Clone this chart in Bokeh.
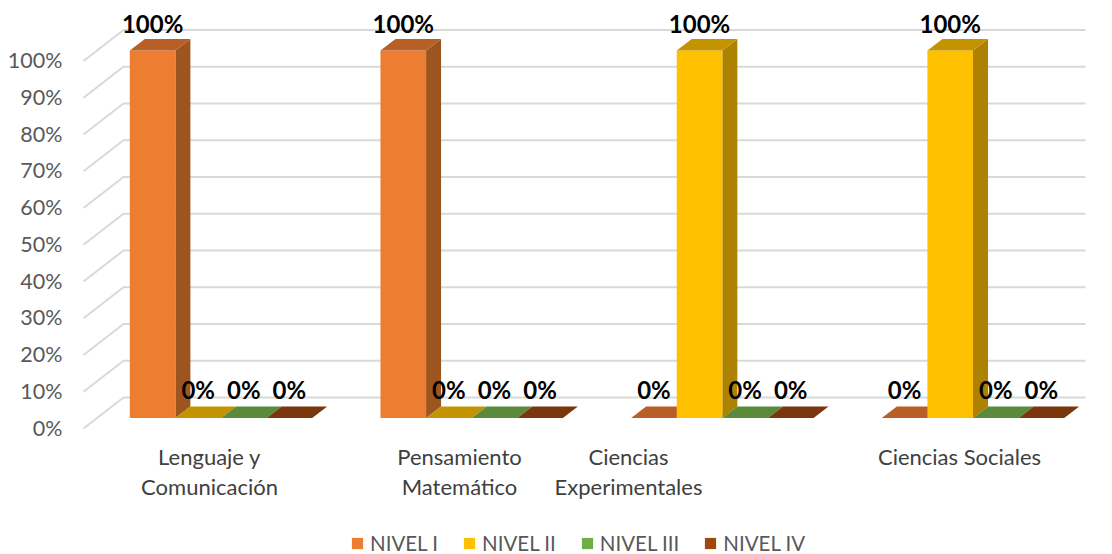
from bokeh.plotting import figure
from bokeh.models import Range1d, Legend, LegendItem
from bokeh.core.properties import value
from bokeh.embed import file_html
from bokeh.resources import INLINE

categories = ["Lenguaje y\nComunicación", "Pensamiento\nMatemático", "Ciencias\nExperimentales", "Ciencias Sociales"]
series_names = ["NIVEL I", "NIVEL II", "NIVEL III", "NIVEL IV"]
nivel_1 = [1.0, 1.0, 0.0, 0.0]
nivel_2 = [0.0, 0.0, 1.0, 1.0]
nivel_3 = [0.0, 0.0, 0.0, 0.0]
nivel_4 = [0.0, 0.0, 0.0, 0.0]
series = [nivel_1, nivel_2, nivel_3, nivel_4]
y_ticks = [0, 0.1, 0.2, 0.3, 0.4, 0.5, 0.6, 0.7, 0.8, 0.9, 1.0]
y_tick_labels = ["0%", "10%", "20%", "30%", "40%", "50%", "60%", "70%", "80%", "90%", "100%"]

front = ["#ed7d31", "#ffc000", "#70ad47", "#9e480e"]
top = ["#b85f26", "#c49400", "#5a8a3a", "#7a370b"]
side = ["#9c551f", "#ad8200", "#4f7a32", "#6b3009"]

W, H = 1112, 554
OX, OY = 0, 0
GROUP = 250.67                # px per group
PXV = 367.5                   # px per 100 %
X0 = 129.3                    # page x of group 0, first bar
Y0 = 417.5                    # page y of value 0

def px(xp):  # page x -> data x
    return (xp - X0) / GROUP
def py(yp):  # page y -> data y
    return (Y0 - yp) / PXV

p = figure(width=W, height=H, output_backend="svg", toolbar_location=None,
           x_range=Range1d(px(OX), px(OX + W)), y_range=Range1d(py(OY + H), py(OY)),
           min_border=0, min_border_left=0, min_border_right=0, min_border_top=0, min_border_bottom=0,
           outline_line_color=None, background_fill_color="white")
p.axis.visible = False
p.grid.visible = False
p.xaxis.visible = False
p.yaxis.visible = False

BAR = 45.6 / GROUP
DX = 15.0 / GROUP
DY = 11.5 / PXV
FONT = "Lato"

# gridlines: side wall + back wall
wall_off_front = py(Y0 + 10.5)
wall_off_back = py(Y0 - 20.5)
gx, gy = [], []
for t in y_ticks:
    gx.append([px(83), px(123), px(1085)])
    gy.append([t + wall_off_front, t + wall_off_back, t + wall_off_back])
p.multi_line(gx, gy, line_color="#d9d9d9", line_width=2)

# y tick labels
p.text([px(62)] * len(y_ticks), [t + wall_off_front + 1 / PXV for t in y_ticks], text=y_tick_labels,
       text_align="right", text_baseline="middle", text_font=value(FONT),
       text_font_size="21.5px", text_color="#595959")

# bars
for g in range(len(categories)):
    for s in range(len(series)):
        v = series[s][g]
        x1 = g + s * BAR
        x2 = x1 + BAR
        if v > 0:
            p.patch([x2, x2 + DX, x2 + DX, x2], [0, DY, v + DY, v], fill_color=side[s], line_color=None)
            p.patch([x1, x2, x2, x1], [0, 0, v, v], fill_color=front[s], line_color=None)
        p.patch([x1, x2, x2 + DX, x1 + DX], [v, v, v + DY, v + DY], fill_color=top[s], line_color=None)

# data labels
lx, ly, lt = [], [], []
for g in range(len(categories)):
    for s in range(len(series)):
        v = series[s][g]
        lx.append(g + (s + 0.5) * BAR)
        ly.append(v + (28.5 if v == 0 else 27.5) / PXV)
        lt.append(f"{v * 100:.0f}%")
p.text(lx, ly, text=lt, text_align="center", text_baseline="middle", text_font=value(FONT),
       text_font_style="bold", text_font_size="24px", text_color="black")

# category labels
cat_centres = [209, 459, 628, 959]
for c, cx in zip(categories, cat_centres):
    for i, line in enumerate(c.split("\n")):
        p.text([px(cx)], [py(456 + i * 30)], text=[line], text_align="center", text_baseline="middle",
               text_font=value(FONT), text_font_size="22px", text_color="#404040")

# legend
dummies = [p.quad(left=[px(-100)], right=[px(-90)], bottom=[0], top=[0.1], fill_color=c, line_color=None) for c in front]
legend = Legend(items=[LegendItem(label=n, renderers=[d]) for n, d in zip(series_names, dummies)],
                orientation="horizontal", location=(350, -1), glyph_width=14, glyph_height=14,
                label_text_font=FONT, label_text_font_size="20.5px", label_text_color="#595959",
                label_standoff=6, spacing=24, border_line_color=None, background_fill_alpha=0,
                padding=0, margin=0, label_height=14)
p.add_layout(legend, "center")

open("out.html", "w").write(file_html(p, INLINE))
